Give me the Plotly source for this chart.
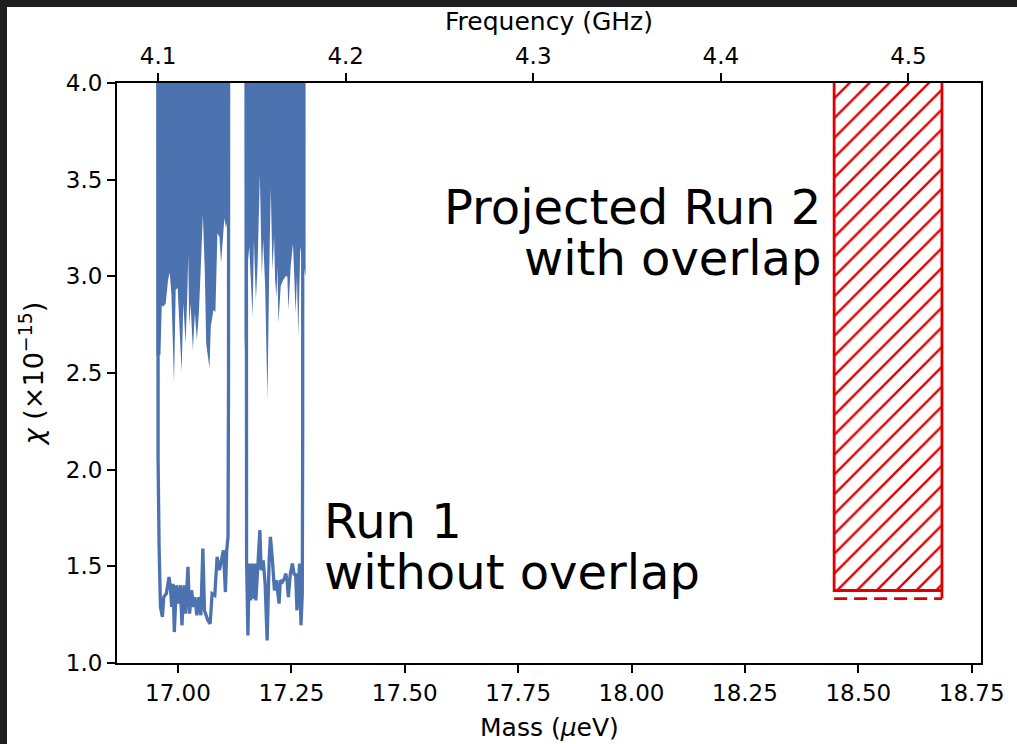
import plotly.graph_objects as go

# ---------------- data ----------------
GHZ_PER_UEV = 0.241799

run1_a_mass = [16.9555, 16.9562, 16.9584, 16.9614, 16.9657, 16.9687, 16.9745, 16.9803, 16.9833, 16.9862,
               16.9891, 16.9920, 16.9964, 17.0008, 17.0052, 17.0088, 17.0132, 17.0169, 17.0220, 17.0256,
               17.0300, 17.0344, 17.0373, 17.0417, 17.0461, 17.0505, 17.0549, 17.0585, 17.0658, 17.0710,
               17.0753, 17.0812, 17.0863, 17.0914, 17.0958, 17.1002, 17.1046, 17.1075, 17.1104, 17.1115,
               17.1119]
run1_a_chi = [8.0, 2.05, 1.600, 1.290, 1.238, 1.341, 1.359, 1.445, 1.393, 1.290,
              1.410, 1.160, 1.402, 1.307, 1.402, 1.195, 1.402, 1.255, 1.497, 1.255,
              1.376, 1.290, 1.341, 1.247, 1.341, 1.247, 1.592, 1.272, 1.221, 1.203,
              1.359, 1.350, 1.549, 1.480, 1.531, 1.583, 1.367, 1.583, 1.652, 2.5,
              8.0]

run1_b_mass = [17.1497, 17.1505, 17.1513, 17.1542, 17.1572, 17.1601, 17.1630, 17.1659, 17.1689, 17.1718,
               17.1762, 17.1806, 17.1835, 17.1879, 17.1922, 17.1966, 17.2010, 17.2039, 17.2083, 17.2127,
               17.2171, 17.2200, 17.2229, 17.2258, 17.2302, 17.2346, 17.2376, 17.2405, 17.2434, 17.2478,
               17.2522, 17.2565, 17.2595, 17.2624, 17.2653, 17.2682, 17.2712, 17.2741, 17.2750, 17.2755]
run1_b_chi = [8.0, 2.2, 1.531, 1.143, 1.514, 1.324, 1.514, 1.333, 1.514, 1.324,
              1.531, 1.687, 1.480, 1.531, 1.410, 1.117, 1.531, 1.652, 1.531, 1.376,
              1.428, 1.376, 1.307, 1.428, 1.419, 1.436, 1.462, 1.428, 1.341, 1.462,
              1.514, 1.454, 1.462, 1.272, 1.428, 1.514, 1.195, 1.359, 2.2, 8.0]

band_a_mass = [16.9526, 16.9614, 16.9643, 16.9672, 16.9730, 16.9782, 16.9818, 16.9855, 16.9913, 16.9950,
               16.9993, 17.0037, 17.0081, 17.0118, 17.0169, 17.0205, 17.0227, 17.0249, 17.0278, 17.0329,
               17.0373, 17.0417, 17.0461, 17.0498, 17.0549, 17.0593, 17.0622, 17.0695, 17.0724, 17.0783,
               17.0826, 17.0870, 17.0914, 17.0950, 17.0987, 17.1024, 17.1060, 17.1097, 17.1148]
band_a_chi = [2.59, 2.593, 2.85, 2.843, 2.86, 2.981, 3.02, 2.912, 2.446, 2.93,
              2.94, 2.74, 2.507, 2.86, 2.653, 2.9, 3.11, 2.74, 2.86, 2.619,
              2.81, 2.67, 2.81, 3.016, 3.318, 3.016, 2.653, 2.524, 2.74, 2.826,
              2.817, 3.223, 3.206, 3.068, 3.2, 3.30, 3.25, 3.3, 3.3]

band_b_mass = [17.1469, 17.1513, 17.1572, 17.1608, 17.1645, 17.1674, 17.1718, 17.1754, 17.1806, 17.1849,
               17.1879, 17.1922, 17.1973, 17.2010, 17.2047, 17.2083, 17.2120, 17.2142, 17.2171, 17.2193,
               17.2215, 17.2266, 17.2317, 17.2376, 17.2412, 17.2434, 17.2485, 17.2536, 17.2565, 17.2595,
               17.2624, 17.2653, 17.2697, 17.2741, 17.2814]
band_b_chi = [2.6, 3.0, 3.154, 2.95, 2.79, 3.188, 2.878, 3.05, 3.525, 3.0,
              3.19, 2.95, 2.36, 3.0, 3.456, 3.03, 3.206, 2.98, 2.895, 3.05,
              2.757, 2.95, 2.98, 3.0, 3.0, 2.826, 3.05, 3.17, 3.0, 2.81,
              3.0, 2.688, 3.154, 3.08, 3.0]

run2_mass = [18.4467, 18.6844]
run2_chi_limit = 1.375
run2_chi_dashed = 1.333
band_top = 4.1

mass_range = [16.8656, 18.7705]
chi_range = [1.0, 4.0]

BLUE = "#4C72B0"
RED = "#E00000"
FONT = "DejaVu Sans"

fig = go.Figure()

# Run 1 shaded bands
for bm, bc in [(band_a_mass, band_a_chi), (band_b_mass, band_b_chi)]:
    xs = bm + [bm[-1], bm[0]]
    ys = bc + [band_top, band_top]
    fig.add_trace(go.Scatter(x=xs, y=ys, mode="lines", fill="toself", fillcolor=BLUE,
                             line=dict(width=0, color=BLUE), hoverinfo="skip", showlegend=False))

# Run 1 limit lines
for lm, lc in [(run1_a_mass, run1_a_chi), (run1_b_mass, run1_b_chi)]:
    fig.add_trace(go.Scatter(x=lm, y=lc, mode="lines", line=dict(color=BLUE, width=3.3),
                             showlegend=False))

# Run 2 projected hatched region
x0, x1 = run2_mass
fig.add_trace(go.Scatter(
    x=[x0, x0, x1, x1, x1],
    y=[band_top, run2_chi_limit, run2_chi_limit, run2_chi_dashed, band_top],
    mode="lines", fill="toself", fillcolor="rgba(0,0,0,0)",
    fillpattern=dict(shape="/", fgcolor=RED, fgopacity=1, bgcolor="white", size=14, solidity=0.17),
    line=dict(color=RED, width=2.8), showlegend=False))
fig.add_trace(go.Scatter(x=[x0, x1], y=[run2_chi_dashed, run2_chi_dashed], mode="lines",
                         line=dict(color=RED, width=2.8, dash="13px,7px"), showlegend=False))

# invisible trace for top frequency axis
fig.add_trace(go.Scatter(x=[mass_range[0] * GHZ_PER_UEV], y=[2], xaxis="x2", mode="markers",
                         marker=dict(opacity=0), showlegend=False, hoverinfo="skip"))

tickfont = dict(family=FONT, size=23, color="black")
titlefont = dict(family=FONT, size=25, color="black")

fig.update_layout(
    width=1010, height=737,
    margin=dict(l=110, r=31, t=76, b=81),
    paper_bgcolor="white", plot_bgcolor="white",
    font=dict(family=FONT, color="black"),
    xaxis=dict(range=mass_range, tick0=17.0, dtick=0.25, tickformat=".2f",
               showline=True, linecolor="black", linewidth=2, mirror=False,
               ticks="outside", ticklen=8, tickwidth=1.8, tickcolor="black",
               showgrid=False, zeroline=False, tickfont=tickfont),
    xaxis2=dict(range=[mass_range[0] * GHZ_PER_UEV, mass_range[1] * GHZ_PER_UEV],
                overlaying="x", side="top", anchor="y", tick0=4.1, dtick=0.1, tickformat=".1f",
                showline=True, linecolor="black", linewidth=2,
                ticks="outside", ticklen=8, tickwidth=1.8, tickcolor="black",
                showgrid=False, zeroline=False, tickfont=tickfont,
                title=dict(text="Frequency (GHz)", font=titlefont, standoff=6)),
    yaxis=dict(range=chi_range, dtick=0.5, tickformat=".1f",
               showline=True, linecolor="black", linewidth=2, mirror=True,
               ticks="outside", ticklen=8, tickwidth=1.8, tickcolor="black",
               showgrid=False, zeroline=False, tickfont=tickfont,
               title=dict(text="<i>χ</i> (×10<sup>−15</sup>)", font=dict(family=FONT, size=27, color="black"), standoff=14)),
)

# bottom axis title placed as a paper annotation for exact vertical position
fig.add_annotation(x=0.5, y=-0.111, xref="paper", yref="paper", text="Mass (<i>μ</i>eV)",
                   showarrow=False, xanchor="center", yanchor="middle", font=titlefont)

ann_font = dict(family=FONT, size=48, color="black")
fig.add_annotation(x=18.4217, y=3.359, xref="x", yref="y", text="Projected Run 2",
                   showarrow=False, xanchor="right", yanchor="middle", align="right", font=ann_font)
fig.add_annotation(x=18.4217, y=3.095, xref="x", yref="y", text="with overlap",
                   showarrow=False, xanchor="right", yanchor="middle", align="right", font=ann_font)
fig.add_annotation(x=17.3178, y=1.733, xref="x", yref="y", text="Run 1",
                   showarrow=False, xanchor="left", yanchor="middle", align="left", font=ann_font)
fig.add_annotation(x=17.3178, y=1.47, xref="x", yref="y", text="without overlap",
                   showarrow=False, xanchor="left", yanchor="middle", align="left", font=ann_font)

# the page around the figure is dark (screenshot frame at left and top)
post = ("document.body.style.margin='0px';"
        "document.body.style.overflow='hidden';"
        "document.documentElement.style.background='#1f1f1f';"
        "document.body.style.background='#1f1f1f';"
        "var d=document.getElementById('{plot_id}');"
        "d.style.position='absolute';d.style.left='7px';d.style.top='7px';")

fig.write_html("out.html", config={"displayModeBar": False}, post_script=post)
